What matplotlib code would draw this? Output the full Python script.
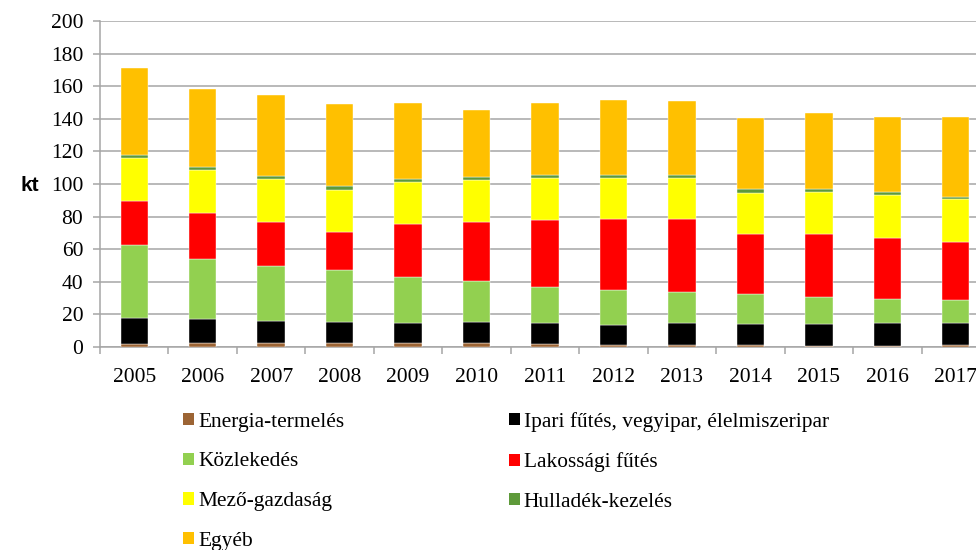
import matplotlib.pyplot as plt
import numpy as np
from matplotlib.patches import Patch

# adatok (kt)
evek = ['2005', '2006', '2007', '2008', '2009', '2010', '2011',
        '2012', '2013', '2014', '2015', '2016', '2017']
energia = [2.0, 2.5, 2.5, 2.5, 2.5, 2.5, 2.0, 1.2, 1.2, 1.0, 0.8, 0.8, 1.2]
ipari = [16.0, 14.9, 13.5, 13.0, 12.2, 12.6, 12.7, 12.1, 13.3, 13.3, 13.5, 13.9, 13.3]
kozlekedes = [44.6, 36.8, 33.5, 31.5, 28.4, 25.2, 22.1, 21.7, 19.2, 18.4, 16.2, 14.9, 14.3]
lakossagi = [27.0, 27.8, 27.4, 23.7, 32.6, 36.4, 41.3, 43.5, 44.8, 36.6, 38.6, 37.5, 35.6]
mezogazd = [26.5, 26.4, 26.2, 25.9, 25.3, 25.5, 25.4, 25.0, 25.0, 25.4, 26.1, 26.4, 26.2]
hulladek = [1.7, 2.0, 2.0, 2.2, 2.2, 2.2, 2.0, 2.2, 2.2, 2.2, 1.7, 1.7, 1.7]
egyeb = [53.2, 47.7, 49.5, 50.3, 46.3, 41.2, 44.0, 45.8, 45.0, 43.8, 46.7, 46.1, 48.7]

sorozatok = [
    ('Energia-termelés', energia, '#9C6434'),
    ('Ipari fűtés, vegyipar, élelmiszeripar', ipari, '#000000'),
    ('Közlekedés', kozlekedes, '#92D050'),
    ('Lakossági fűtés', lakossagi, '#FF0000'),
    ('Mező-gazdaság', mezogazd, '#FFFF00'),
    ('Hulladék-kezelés', hulladek, '#5E9A3A'),
    ('Egyéb', egyeb, '#FFC000'),
]

serif = 'Liberation Serif'
racs = '#a6a6a6'

fig = plt.figure(figsize=(9.76, 5.5), dpi=100)
ax = fig.add_axes([100 / 976, 1 - 347 / 550, 890 / 976, 326 / 550])

x = np.arange(len(evek))
alap = np.zeros(len(evek))
for nev, ertek, szin in sorozatok:
    ax.bar(x, ertek, width=0.4, bottom=alap, color=szin, zorder=3,
           edgecolor='#ffffff', linewidth=0.3)
    alap += np.array(ertek)

ax.set_xlim(-0.5, len(evek) - 0.5)
ax.set_ylim(0, 200)
ax.set_yticks(np.arange(0, 201, 20))
ax.yaxis.grid(True, color=racs, linewidth=1.1, zorder=0)

for s in ['top', 'right']:
    ax.spines[s].set_visible(False)
for s in ['left', 'bottom']:
    ax.spines[s].set_color(racs)
    ax.spines[s].set_linewidth(1.1)

ax.set_xticks(np.arange(-0.5, len(evek)))
ax.set_xticklabels([])
ax.set_xticks(x, minor=True)
ax.set_xticklabels(evek, minor=True, fontsize=15.5, fontfamily=serif)
ax.tick_params(axis='x', which='major', length=5, color=racs, width=1.1)
ax.tick_params(axis='x', which='minor', length=0, pad=15)
ax.tick_params(axis='y', length=5, color=racs, width=1.1, pad=7)
for t in ax.get_yticklabels():
    t.set_fontsize(15.5)
    t.set_fontfamily(serif)

fig.text(30 / 976, 1 - 185 / 550, 'kt', fontsize=15, fontweight='bold',
         fontfamily='Liberation Sans', ha='center', va='center')

# jelmagyarázat: sorfolytonos elrendezés 2 oszlopban
jelek = {nev: Patch(facecolor=szin) for nev, _, szin in sorozatok}
sorrend = ['Energia-termelés', 'Közlekedés', 'Mező-gazdaság', 'Egyéb',
           'Ipari fűtés, vegyipar, élelmiszeripar', 'Lakossági fűtés', 'Hulladék-kezelés']
fig.legend([jelek[n] for n in sorrend], sorrend, ncol=2, frameon=False,
           loc='upper left', bbox_to_anchor=(183 / 976, 1 - 412 / 550),
           prop={'family': serif, 'size': 15.4}, handlelength=0.51, handleheight=0.51,
           handletextpad=0.19, labelspacing=0.96, columnspacing=7.7,
           borderpad=0, borderaxespad=0)

fig.savefig('out.png', dpi=100)
